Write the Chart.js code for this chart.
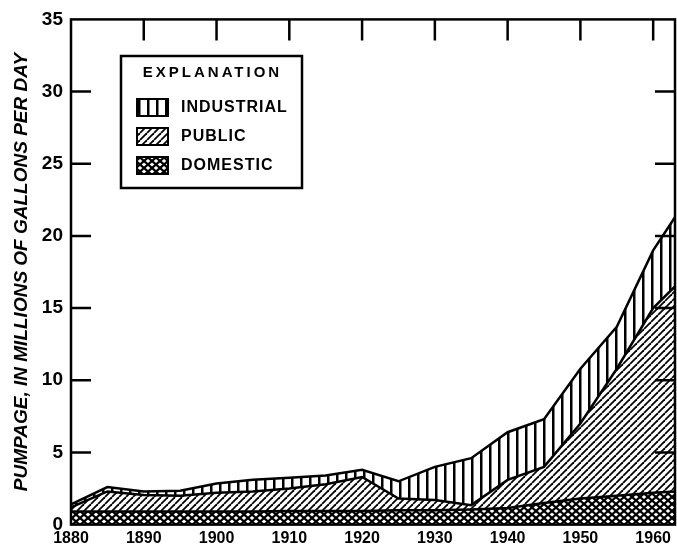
<!DOCTYPE html>
<html>
<head>
<meta charset="utf-8">
<script src="https://cdn.jsdelivr.net/npm/chart.js@4"></script>
<style>
  body { margin: 0; background: #fff; }
  canvas { display: block; }
</style>
</head>
<body>
<canvas id="pumpageCanvas" width="677" height="544"></canvas>
<script>
// pumpage, millions of gallons per day (stacked: domestic, public, industrial)
const years = [1880, 1885, 1890, 1895, 1900, 1905, 1910, 1915, 1920, 1925, 1930, 1935, 1940, 1945, 1950, 1955, 1960, 1963];
const domestic = [0.9, 0.9, 0.9, 0.9, 0.9, 0.9, 0.95, 0.95, 0.95, 1.0, 1.0, 1.05, 1.15, 1.5, 1.8, 2.0, 2.2, 2.3];
const publicSupply = [0.3, 1.4, 1.15, 1.1, 1.3, 1.4, 1.55, 1.85, 2.35, 0.8, 0.7, 0.3, 1.95, 2.5, 5.2, 8.8, 12.8, 14.2];
const industrial = [0.2, 0.3, 0.25, 0.35, 0.65, 0.8, 0.75, 0.6, 0.5, 1.2, 2.3, 3.25, 3.3, 3.3, 3.8, 2.9, 4.0, 4.8];

const yTickMarks = [5, 10, 15, 20, 25, 30];
const topTickMarks = [1890, 1900, 1910, 1920, 1930, 1940, 1950, 1960];
const legendNames = ['INDUSTRIAL', 'PUBLIC', 'DOMESTIC'];

const FONT = "'Liberation Sans', Arial, sans-serif";

function makePattern(w, h, draw) {
    const c = document.createElement('canvas');
    c.width = w;
    c.height = h;
    const g = c.getContext('2d');
    g.fillStyle = '#fff';
    g.fillRect(0, 0, w, h);
    g.strokeStyle = '#000';
    g.fillStyle = '#000';
    draw(g);
    return g.createPattern(c, 'repeat');
}

// vertical ruling
const vertPattern = makePattern(9, 4, g => { g.fillRect(3, 0, 2.5, 4); });
// diagonal ruling
const diagPattern = makePattern(7, 7, g => {
    g.lineWidth = 1.8;
    for (let k = -1; k <= 1; k++) {
        g.beginPath();
        g.moveTo(k * 7, 7);
        g.lineTo(k * 7 + 7, 0);
        g.stroke();
    }
});
// cross hatch
const crossPattern = makePattern(8, 7, g => {
    g.lineWidth = 2.2;
    for (let k = -1; k <= 1; k++) {
        g.beginPath();
        g.moveTo(k * 8, 0);
        g.lineTo(k * 8 + 8, 7);
        g.stroke();
        g.beginPath();
        g.moveTo(k * 8, 7);
        g.lineTo(k * 8 + 8, 0);
        g.stroke();
    }
});

const toPoints = arr => arr.map((v, i) => ({ x: years[i], y: v }));

const framePlugin = {
    id: 'frame',
    afterDraw(chart) {
        const ctx = chart.ctx;
        const a = chart.chartArea;
        const xs = chart.scales.x, ys = chart.scales.y;
        ctx.save();
        ctx.strokeStyle = '#000';
        ctx.lineWidth = 2.5;
        ctx.strokeRect(a.left, a.top, a.right - a.left, a.bottom - a.top);

        // inward tick marks
        ctx.beginPath();
        yTickMarks.forEach(v => {
            const y = ys.getPixelForValue(v);
            ctx.moveTo(a.left, y); ctx.lineTo(a.left + 20, y);
            ctx.moveTo(a.right, y); ctx.lineTo(a.right - 20, y);
        });
        topTickMarks.forEach(v => {
            const x = xs.getPixelForValue(v);
            ctx.moveTo(x, a.top); ctx.lineTo(x, a.top + 21);
        });
        ctx.stroke();

        // explanation box
        const bx = 121, by = 56, bw = 181, bh = 132;
        ctx.fillStyle = '#fff';
        ctx.fillRect(bx, by, bw, bh);
        ctx.lineWidth = 2.5;
        ctx.strokeRect(bx, by, bw, bh);
        ctx.fillStyle = '#000';
        ctx.textBaseline = 'middle';
        ctx.textAlign = 'center';
        ctx.font = 'bold 15px ' + FONT;
        ctx.letterSpacing = '3px';
        ctx.fillText('EXPLANATION', bx + bw / 2 + 1, 73);
        ctx.letterSpacing = '1px';
        ctx.textAlign = 'left';
        ctx.font = 'bold 16px ' + FONT;
        const fills = [vertPattern, diagPattern, crossPattern];
        legendNames.forEach((name, i) => {
            const cy = 107 + i * 29;
            ctx.fillStyle = fills[i];
            ctx.fillRect(137, cy - 8, 31, 17);
            ctx.lineWidth = 2;
            ctx.strokeRect(137, cy - 8, 31, 17);
            ctx.fillStyle = '#000';
            ctx.fillText(name, 181, cy + 1);
        });
        ctx.restore();
    }
};

const ctx = document.getElementById('pumpageCanvas').getContext('2d');

new Chart(ctx, {
    type: 'line',
    data: {
        datasets: [
            { label: 'DOMESTIC', data: toPoints(domestic), backgroundColor: crossPattern, fill: 'origin' },
            { label: 'PUBLIC', data: toPoints(publicSupply), backgroundColor: diagPattern, fill: '-1' },
            { label: 'INDUSTRIAL', data: toPoints(industrial), backgroundColor: vertPattern, fill: '-1' }
        ]
    },
    options: {
        responsive: false,
        animation: false,
        devicePixelRatio: 1,
        layout: { padding: { top: 15, right: 2, left: 0, bottom: 0 } },
        elements: {
            point: { radius: 0 },
            line: { tension: 0, borderWidth: 2.5, borderColor: '#000' }
        },
        plugins: {
            legend: { display: false },
            tooltip: { enabled: false }
        },
        scales: {
            x: {
                type: 'linear',
                min: 1880,
                max: 1963,
                grid: { display: false, drawTicks: false },
                border: { display: false },
                ticks: {
                    stepSize: 10,
                    includeBounds: false,
                    maxRotation: 0,
                    padding: 4,
                    color: '#000',
                    font: { family: FONT, size: 16, weight: 'bold' },
                    callback: v => String(v)
                },
                afterFit: s => { s.height = 19; }
            },
            y: {
                stacked: true,
                min: 0,
                max: 35,
                grid: { display: false, drawTicks: false },
                border: { display: false },
                ticks: {
                    stepSize: 5,
                    padding: 8,
                    color: '#000',
                    font: { family: FONT, size: 19, weight: 'bold' }
                },
                title: {
                    display: true,
                    text: 'PUMPAGE, IN MILLIONS OF GALLONS PER DAY',
                    color: '#000',
                    font: { family: FONT, size: 19, weight: 'bold', style: 'italic' },
                    padding: { top: 10, bottom: 0 }
                },
                afterFit: s => { s.width = 71; }
            }
        }
    },
    plugins: [framePlugin]
});
</script>
</body>
</html>
